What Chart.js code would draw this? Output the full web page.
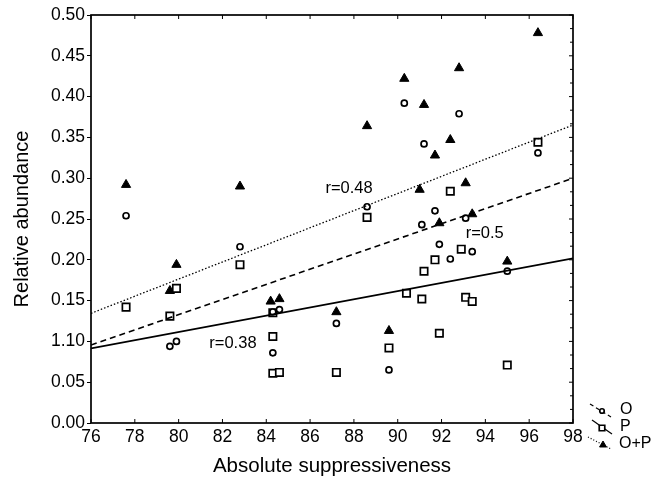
<!DOCTYPE html>
<html>
<head>
<meta charset="utf-8">
<script src="https://cdn.jsdelivr.net/npm/chart.js@4"></script>
<style>
  html, body { margin: 0; padding: 0; background: #fff; }
</style>
</head>
<body>
<canvas id="chart" width="664" height="482"></canvas>
<script>
// tick labels (the 0.10 label really reads "1.10" in the source figure)
const xTickLabels = ['76', '78', '80', '82', '84', '86', '88', '90', '92', '94', '96', '98'];
const yTickLabels = ['0.00', '0.05', '1.10', '0.15', '0.20', '0.25', '0.30', '0.35', '0.40', '0.45', '0.50'];

// O (open circles)
const oX = [77.6, 79.6, 79.9, 82.8, 84.3, 84.6, 84.3, 87.2, 88.6, 89.6, 90.3, 91.1, 91.2, 91.7, 91.9, 92.4, 92.8, 93.1, 93.4, 95.0, 96.4];
const oY = [0.254, 0.094, 0.100, 0.216, 0.136, 0.139, 0.086, 0.122, 0.265, 0.065, 0.392, 0.243, 0.342, 0.260, 0.219, 0.201, 0.379, 0.251, 0.210, 0.186, 0.331];

// P (open squares)
const pX = [77.6, 79.6, 79.9, 82.8, 84.3, 84.3, 84.6, 84.3, 87.2, 88.6, 89.6, 90.4, 91.1, 91.2, 91.7, 91.9, 92.4, 92.9, 93.1, 93.4, 95.0, 96.4];
const pY = [0.142, 0.131, 0.165, 0.194, 0.106, 0.061, 0.062, 0.135, 0.062, 0.252, 0.092, 0.159, 0.152, 0.186, 0.200, 0.110, 0.284, 0.213, 0.154, 0.149, 0.071, 0.344];

// O+P (filled triangles)
const opX = [77.6, 79.6, 79.9, 82.8, 84.2, 84.6, 87.2, 88.6, 89.6, 90.3, 91.0, 91.2, 91.7, 91.9, 92.4, 92.8, 93.1, 93.4, 95.0, 96.4];
const opY = [0.292, 0.162, 0.194, 0.290, 0.149, 0.152, 0.136, 0.364, 0.113, 0.422, 0.286, 0.390, 0.328, 0.245, 0.347, 0.435, 0.294, 0.256, 0.198, 0.478];

// regression lines, value at x = 76 and x = 98
const lineX = [76, 98];
const oFit = [0.0956, 0.2999];
const pFit = [0.0915, 0.2018];
const opFit = [0.1344, 0.3652];

// r labels: [text, x, y]
const rLabels = [['r=0.48', 86.7, 0.288], ['r=0.5', 93.1, 0.232], ['r=0.38', 81.4, 0.098]];

const font = '"Liberation Sans", Arial, Helvetica, sans-serif';
Chart.defaults.color = '#000';
Chart.defaults.font.family = font;

const pts = (xs, ys) => xs.map((x, i) => ({ x: x, y: ys[i] }));

const markerStyle = {
    O: { pointStyle: 'circle', radius: 3, borderWidth: 1.7, fill: '#fff' },
    P: { pointStyle: 'rect', radius: 5.2, borderWidth: 1.7, fill: '#fff' },
    OP: { pointStyle: 'triangle', radius: 5.3, borderWidth: 1, fill: '#000' }
};

function scatterSet(label, xs, ys, m) {
    return {
        type: 'scatter',
        label: label,
        data: pts(xs, ys),
        pointStyle: m.pointStyle,
        pointRadius: m.radius,
        pointBorderWidth: m.borderWidth,
        pointBorderColor: '#000',
        pointBackgroundColor: m.fill,
        showLine: false
    };
}

function fitSet(label, ys, dash, width) {
    return {
        type: 'line',
        label: label,
        data: pts(lineX, ys),
        borderColor: '#000',
        borderWidth: width,
        borderDash: dash,
        pointRadius: 0,
        fill: false
    };
}

const extras = {
    id: 'extras',
    afterDatasetsDraw(chart) {
        const ctx = chart.ctx;
        const a = chart.chartArea;
        const xs = chart.scales.x, ys = chart.scales.y;
        ctx.save();
        ctx.strokeStyle = '#000';
        ctx.fillStyle = '#000';
        ctx.lineWidth = 1.7;
        ctx.strokeRect(a.left, a.top, a.right - a.left, a.bottom - a.top);

        // inward ticks on bottom, top and right edges
        ctx.lineWidth = 1;
        ctx.beginPath();
        for (let v = 76; v <= 98; v += 2) {
            const px = xs.getPixelForValue(v);
            ctx.moveTo(px, a.bottom); ctx.lineTo(px, a.bottom - 4);
            ctx.moveTo(px, a.top); ctx.lineTo(px, a.top + 4);
        }
        for (let i = 0; i <= 30; i++) {
            const py = ys.getPixelForValue(i * 0.5 / 30);
            ctx.moveTo(a.right, py); ctx.lineTo(a.right - (i % 3 === 0 ? 4 : 3), py);
        }
        ctx.stroke();

        // r labels
        ctx.font = '16.5px ' + font;
        ctx.textBaseline = 'middle';
        ctx.textAlign = 'left';
        rLabels.forEach(function (r) {
            ctx.fillText(r[0], xs.getPixelForValue(r[1]), ys.getPixelForValue(r[2]));
        });

        // legend, lower right outside the plot
        const items = [
            { text: 'O', dash: [4, 3], m: markerStyle.O, x0: 590, y0: 404, x1: 611, y1: 417, mx: 602, my: 411, tx: 620, ty: 410 },
            { text: 'P', dash: [], m: markerStyle.P, x0: 592, y0: 420, x1: 612, y1: 434, mx: 602, my: 428, tx: 620, ty: 427 },
            { text: 'O+P', dash: [1, 2], m: markerStyle.OP, x0: 588, y0: 437, x1: 611, y1: 449, mx: 603, my: 445, tx: 619, ty: 444 }
        ];
        ctx.font = '16px ' + font;
        items.forEach(function (it) {
            ctx.setLineDash(it.dash);
            ctx.lineWidth = 1.2;
            ctx.beginPath();
            ctx.moveTo(it.x0, it.y0);
            ctx.lineTo(it.x1, it.y1);
            ctx.stroke();
            ctx.setLineDash([]);
            ctx.fillStyle = it.m.fill;
            ctx.lineWidth = it.m.borderWidth;
            Chart.helpers.drawPoint(ctx, { pointStyle: it.m.pointStyle, radius: it.m.radius * 0.75, rotation: 0, borderWidth: it.m.borderWidth }, it.mx, it.my);
            ctx.fillStyle = '#000';
            ctx.fillText(it.text, it.tx, it.ty);
        });
        ctx.restore();
    }
};

const ctx = document.getElementById('chart').getContext('2d');
const chart = new Chart(ctx, {
    data: {
        datasets: [
            fitSet('O fit', oFit, [6, 4], 1.6),
            fitSet('P fit', pFit, [], 1.7),
            fitSet('O+P fit', opFit, [1.5, 2], 1.3),
            scatterSet('O', oX, oY, markerStyle.O),
            scatterSet('P', pX, pY, markerStyle.P),
            scatterSet('O+P', opX, opY, markerStyle.OP)
        ]
    },
    options: {
        responsive: false,
        animation: false,
        layout: {
            padding: { left: 0, top: 15, right: 91, bottom: 0 }
        },
        plugins: {
            legend: { display: false },
            tooltip: { enabled: false }
        },
        scales: {
            x: {
                type: 'linear',
                min: 76,
                max: 98,
                afterFit: function (s) { s.height = 59; },
                border: { display: false },
                grid: { display: false, drawTicks: false },
                ticks: {
                    stepSize: 2,
                    padding: 4,
                    maxRotation: 0,
                    font: { size: 17.5 },
                    callback: function (v, i) { return xTickLabels[i]; }
                },
                title: {
                    display: true,
                    text: 'Absolute suppressiveness',
                    font: { size: 20.5 },
                    padding: { top: 0, bottom: 3 }
                }
            },
            y: {
                type: 'linear',
                min: 0,
                max: 0.5,
                afterFit: function (s) { s.width = 91; },
                border: { display: false },
                grid: { drawOnChartArea: false, drawTicks: true, tickLength: 4, color: '#000', lineWidth: 1 },
                ticks: {
                    stepSize: 0.05,
                    padding: 2,
                    font: { size: 17.5 },
                    callback: function (v, i) { return yTickLabels[i]; }
                },
                title: {
                    display: true,
                    text: 'Relative abundance',
                    font: { size: 20 },
                    padding: { top: 10, bottom: 0 }
                }
            }
        }
    },
    plugins: [extras]
});
</script>
</body>
</html>
